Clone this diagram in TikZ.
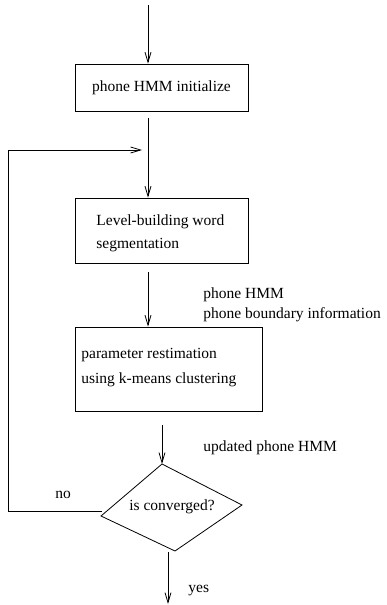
\documentclass[tikz,border=0pt]{standalone}
\usepackage{fontspec}
\setmainfont{Liberation Serif}
\usetikzlibrary{arrows.meta}
\begin{document}
\begin{tikzpicture}[x=1pt,y=-1pt,
  line width=0.8pt,
  arr/.style={-{Straight Barb[length=10pt,width=6pt,line width=0.8pt]}},
  txt/.style={font=\fontsize{15.5}{18}\selectfont, inner sep=0pt},
  box/.style={draw, inner sep=0pt}]
\useasboundingbox (0,0) rectangle (386,605);
% boxes
\node[box, minimum width=173pt, minimum height=47pt, txt] (b1) at (161.5,87.5) {phone HMM initialize};
\node[box, minimum width=173pt, minimum height=65pt] (b2) at (161.5,230.5) {};
\node[txt, anchor=base west] (t2a) at (96,225) {Level-building word};
\node[txt, anchor=base west] (t2b) at (96,248) {segmentation};
\node[box, minimum width=187pt, minimum height=84pt] (b3) at (168.5,369) {};
\node[txt, anchor=base west] (t3a) at (81,358) {parameter restimation};
\node[txt, anchor=base west] (t3b) at (81,383) {using k-means clustering};
% diamond
\coordinate (dt) at (162,464);
\coordinate (dr) at (242,505);
\coordinate (db) at (175,551);
\coordinate (dl) at (101,516);
\draw (dt) -- (dr) -- (db) -- (dl) -- cycle;
\node[txt] (dtext) at (172,507) {is converged?};
% coordinates
\coordinate (s0) at (148,5);
\coordinate (m1) at (148,118);
\coordinate (m2) at (148,272);
\coordinate (m3) at (162,425);
\coordinate (loopin) at (142,150);
\coordinate (c1) at (8,511);
\coordinate (c2) at (8,150);
\coordinate (noout) at (102,511);
\coordinate (ys) at (168,552);
\coordinate (ye) at (168,604);
% arrows
\draw[arr] (s0) -- (b1.north -| s0);
\draw[arr] (m1) -- (b2.north -| m1);
\draw[arr] (m2) -- (b3.north -| m2);
\draw[arr] (m3) -- (dt);
\draw[arr] (noout) -- (c1) -- (c2) -- (loopin);
\draw[arr] (ys) -- (ye);
% labels
\node[txt, anchor=base west] (l1) at (203,298) {phone HMM};
\node[txt, anchor=base west] (l2) at (203,318) {phone boundary information};
\node[txt, anchor=base west] (l3) at (203,451) {updated phone HMM};
\node[txt, anchor=base west] (l4) at (55,498) {no};
\node[txt, anchor=base west] (l5) at (188,592) {yes};
\end{tikzpicture}
\end{document}
